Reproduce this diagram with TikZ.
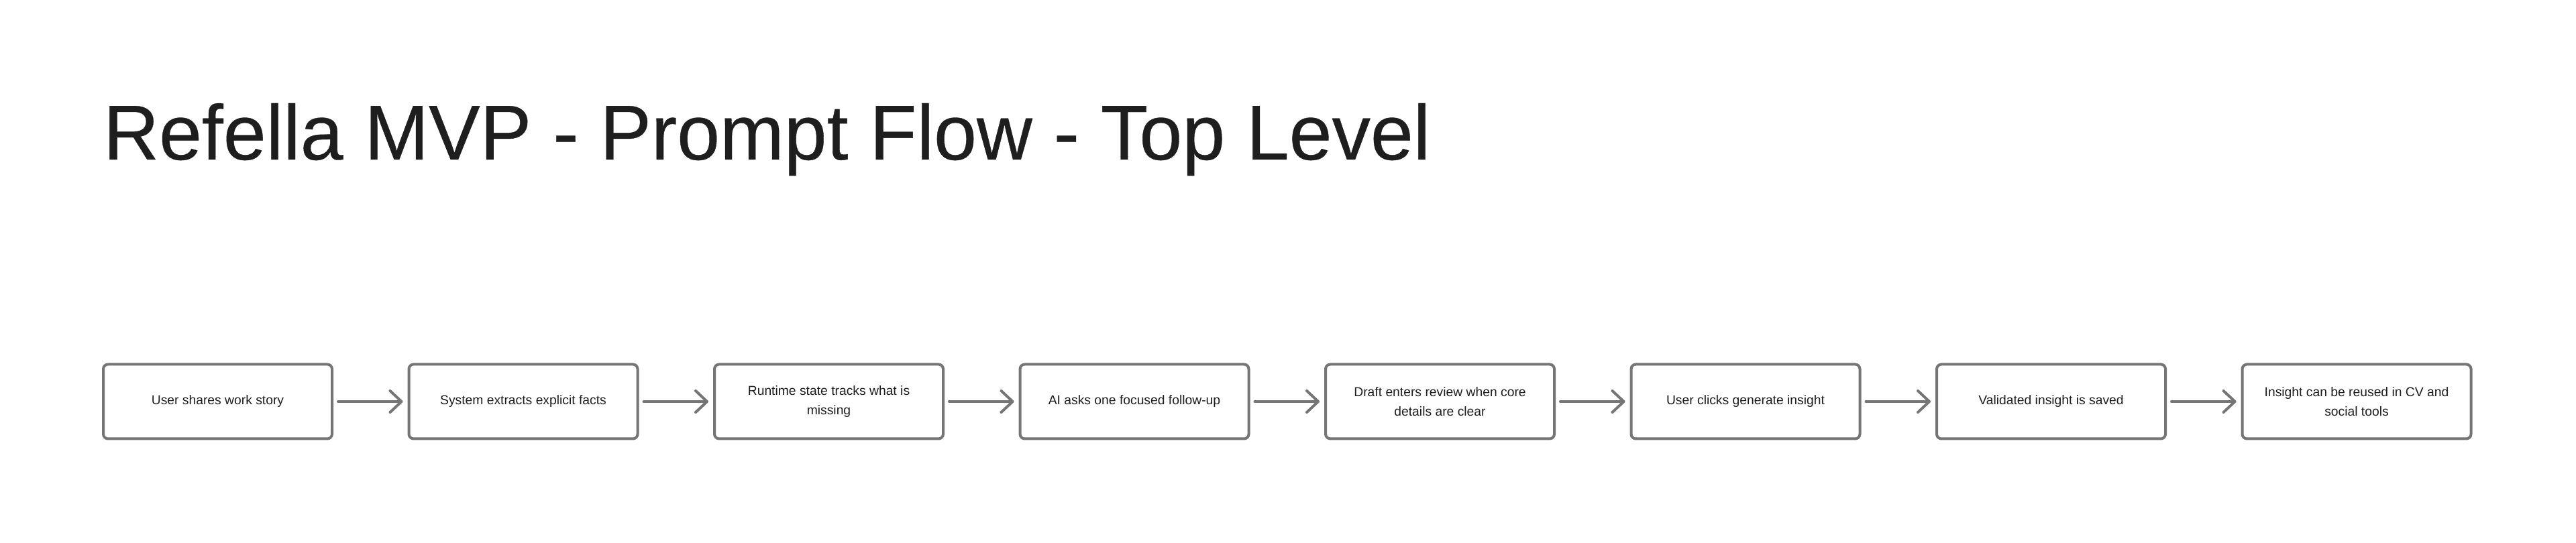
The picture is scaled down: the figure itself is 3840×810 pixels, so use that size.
\documentclass[tikz,border=0pt]{standalone}
\usepackage{fontspec}
\setmainfont{Liberation Sans}
\newfontfamily\titlefont[FakeStretch=0.99,FakeBold=0.3]{Liberation Sans}
\usetikzlibrary{arrows.meta}
\definecolor{edge}{HTML}{757575}
\definecolor{ink}{HTML}{1E1E1E}
\begin{document}
\begin{tikzpicture}[x=1pt,y=1pt,
  stepbox/.style={draw=edge, line width=4pt, rounded corners=7pt,
    minimum width=341pt, minimum height=111pt, inner sep=0pt,
    align=center, text=ink, font=\fontsize{19.3}{29}\selectfont, fill=white},
  flow/.style={draw=edge, line width=4pt, line cap=round,
    -{Straight Barb[length=17pt,width=32pt,line cap=round,round]},
    shorten <=7pt, shorten >=7pt}]
\useasboundingbox[fill=white] (0,0) rectangle (3840,810);
\node[anchor=base west, inner sep=0pt, text=ink, font=\titlefont\fontsize{116}{122}\selectfont]
  (title) at (154,572) {Refella MVP - Prompt Flow - Top Level};
\node[stepbox] (s1) at (324.5,211) {User shares work story};
\node[stepbox] (s2) at (780,211) {System extracts explicit facts};
\node[stepbox] (s3) at (1235.5,211) {Runtime state tracks what is\\missing};
\node[stepbox] (s4) at (1691,211) {AI asks one focused follow-up};
\node[stepbox] (s5) at (2146.5,211) {Draft enters review when core\\details are clear};
\node[stepbox] (s6) at (2602,211) {User clicks generate insight};
\node[stepbox] (s7) at (3057.5,211) {Validated insight is saved};
\node[stepbox] (s8) at (3513,211) {Insight can be reused in CV and\\social tools};
\foreach \a/\b in {s1/s2,s2/s3,s3/s4,s4/s5,s5/s6,s6/s7,s7/s8}
  \draw[flow] (\a.east) -- (\b.west);
\end{tikzpicture}
\end{document}
